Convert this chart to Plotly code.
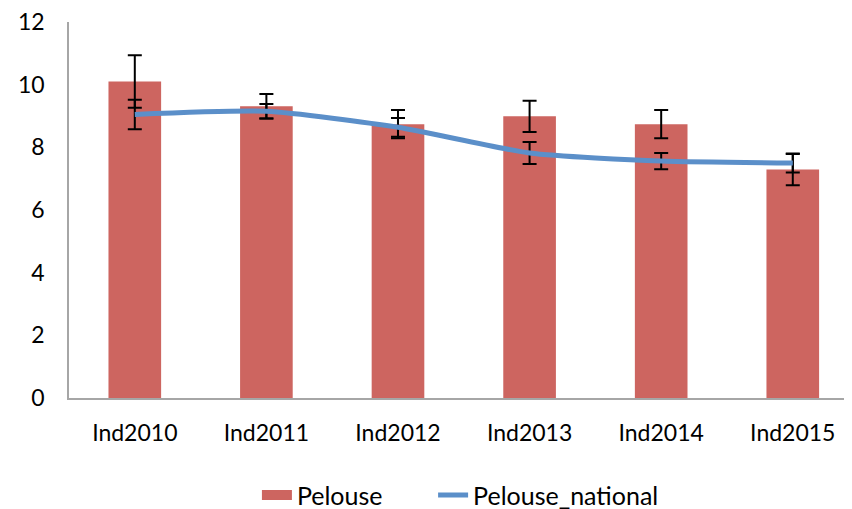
import plotly.graph_objects as go

# Data
categories = ["Ind2010", "Ind2011", "Ind2012", "Ind2013", "Ind2014", "Ind2015"]
pelouse = [10.10, 9.31, 8.74, 8.99, 8.74, 7.29]
pelouse_err = [0.84, 0.39, 0.45, 0.50, 0.45, 0.50]
national = [9.05, 9.15, 8.64, 7.82, 7.56, 7.50]
national_err = [0.47, 0.23, 0.30, 0.35, 0.26, 0.30]

bar_color = "#CD6560"
line_color = "#5B8FC9"

fig = go.Figure()

fig.add_trace(go.Bar(
    x=categories, y=pelouse, name="Pelouse", showlegend=False,
    marker=dict(color=bar_color, line=dict(width=0)),
    error_y=dict(type="data", array=pelouse_err, color="black", thickness=2, width=7),
))
# legend entry for the bars: a wide flat swatch like Excel's
fig.add_trace(go.Scatter(
    x=[None], y=[None], name="Pelouse", mode="lines",
    line=dict(color=bar_color, width=15), legend="legend",
))

fig.add_trace(go.Scatter(
    x=categories, y=national, name="Pelouse_national", legend="legend2",
    mode="lines", line=dict(color=line_color, width=5, shape="spline", smoothing=0.6),
    error_y=dict(type="data", array=national_err, color="black", thickness=2, width=7),
))

# the page body has an 8px margin, so margins are shifted to compensate
fig.update_layout(
    width=852, height=517,
    margin=dict(l=61, r=8, t=14, b=126),
    plot_bgcolor="white", paper_bgcolor="white",
    font=dict(family="Lato, Open Sans, sans-serif", size=23, color="black"),
    bargap=0.6,
    showlegend=True,
    legend=dict(orientation="h", x=0.240, xanchor="left",
                y=-0.194, yanchor="top", font=dict(size=25)),
    legend2=dict(orientation="h", x=0.465, xanchor="left",
                 y=-0.194, yanchor="top", font=dict(size=25)),
)

fig.update_xaxes(
    range=[-0.5, 5.45], showline=True, linecolor="#A6A6A6", linewidth=1.5,
    showgrid=False, ticks="", ticklabelstandoff=14, automargin=False,
)
fig.update_yaxes(
    range=[0, 12], dtick=2, showline=True, linecolor="#A6A6A6", linewidth=1.5,
    showgrid=False, zeroline=False, ticks="", ticklabelstandoff=18, automargin=False,
    ticklabeloverflow="allow",
)

fig.write_html("out.html")
